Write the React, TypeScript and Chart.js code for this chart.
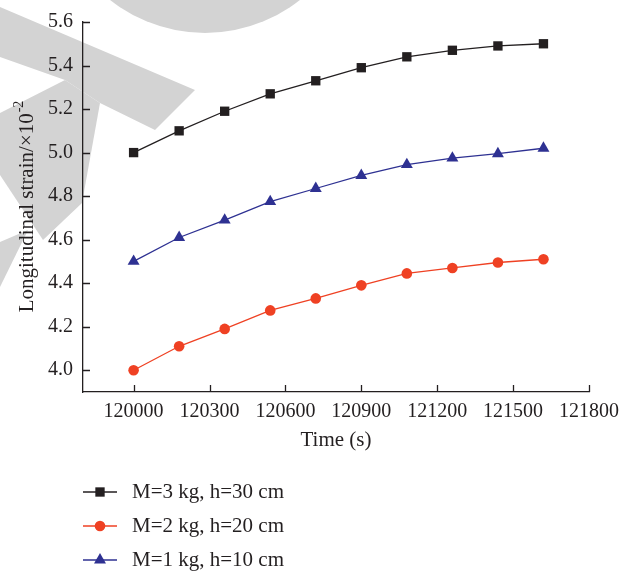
import React, { useEffect, useRef } from "react";
import { Chart, registerables } from "chart.js";

Chart.register(...registerables);

const timeSeconds = [120000, 120180, 120360, 120540, 120720, 120900, 121080, 121260, 121440, 121620];
const strainM3 = [5.0, 5.1, 5.19, 5.27, 5.33, 5.39, 5.44, 5.47, 5.49, 5.5];
const strainM2 = [4.0, 4.11, 4.19, 4.275, 4.33, 4.39, 4.445, 4.47, 4.495, 4.51];
const strainM1 = [4.5, 4.61, 4.69, 4.775, 4.835, 4.895, 4.945, 4.975, 4.995, 5.02];
const seriesLabels = ["M=3 kg, h=30 cm", "M=2 kg, h=20 cm", "M=1 kg, h=10 cm"];
const xTickValues = [120000, 120300, 120600, 120900, 121200, 121500, 121800];
const yTickValues = [4.0, 4.2, 4.4, 4.6, 4.8, 5.0, 5.2, 5.4, 5.6];
const xTitle = "Time (s)";
const yTitleMain = "Longitudinal strain/×10";
const yTitleSup = "-2";

const FONT = "'Liberation Serif', 'DejaVu Serif', serif";
const INK = "#231f20";
const BLACK = "#231f20";
const RED = "#ef4123";
const BLUE = "#2e3192";
const WM = "#d3d3d3";

function drawMarker(ctx: CanvasRenderingContext2D, style: string, x: number, y: number, r: number, color: string) {
  ctx.save();
  ctx.fillStyle = color;
  ctx.beginPath();
  if (style === "rect") {
    const s = Math.SQRT1_2 * r;
    ctx.rect(x - s, y - s, 2 * s, 2 * s);
  } else if (style === "circle") {
    ctx.arc(x, y, r, 0, Math.PI * 2);
  } else {
    ctx.moveTo(x, y - r);
    ctx.lineTo(x + r * Math.sin((2 * Math.PI) / 3), y - r * Math.cos((2 * Math.PI) / 3));
    ctx.lineTo(x + r * Math.sin((4 * Math.PI) / 3), y - r * Math.cos((4 * Math.PI) / 3));
    ctx.closePath();
  }
  ctx.fill();
  ctx.restore();
}

const watermarkPlugin = {
  id: "watermark",
  beforeDraw(chart: any) {
    const ctx = chart.ctx as CanvasRenderingContext2D;
    ctx.save();
    ctx.fillStyle = WM;
    const polys = [
      [[0, 7], [195, 90], [155, 130], [100, 103], [65, 80], [0, 57]],
      [[65, 80], [100, 103], [82, 203], [43, 240], [0, 175], [0, 113]],
      [[0, 242], [28, 230], [0, 287]],
    ];
    for (const p of polys) {
      ctx.beginPath();
      p.forEach(([x, y], i) => (i === 0 ? ctx.moveTo(x, y) : ctx.lineTo(x, y)));
      ctx.closePath();
      ctx.fill();
    }
    ctx.beginPath();
    ctx.arc(205, -120, 153, 0, Math.PI * 2);
    ctx.fill();
    ctx.restore();
  },
};

const decorPlugin = {
  id: "decor",
  afterDraw(chart: any) {
    const ctx = chart.ctx as CanvasRenderingContext2D;
    const { left, right, top, bottom } = chart.chartArea;
    const xs = chart.scales.x;
    const ys = chart.scales.y;
    ctx.save();
    ctx.strokeStyle = INK;
    ctx.lineWidth = 1.3;
    ctx.beginPath();
    for (const v of yTickValues) {
      const py = Math.round(ys.getPixelForValue(v)) + 0.5;
      ctx.moveTo(left, py);
      ctx.lineTo(left + 7, py);
    }
    for (const v of xTickValues) {
      const px = Math.round(xs.getPixelForValue(v)) + 0.5;
      ctx.moveTo(px, bottom);
      ctx.lineTo(px, bottom - 7);
    }
    ctx.stroke();

    // axis titles
    ctx.fillStyle = INK;
    ctx.font = `21px ${FONT}`;
    ctx.textAlign = "center";
    ctx.textBaseline = "middle";
    ctx.fillText(xTitle, (left + right) / 2, 440);

    ctx.save();
    ctx.translate(27, (top + bottom) / 2);
    ctx.rotate(-Math.PI / 2);
    ctx.font = `21px ${FONT}`;
    const wMain = ctx.measureText(yTitleMain).width;
    ctx.font = `14px ${FONT}`;
    const wSup = ctx.measureText(yTitleSup).width;
    const start = -(wMain + wSup) / 2;
    ctx.textAlign = "left";
    ctx.font = `21px ${FONT}`;
    ctx.fillText(yTitleMain, start, 0);
    ctx.font = `14px ${FONT}`;
    ctx.fillText(yTitleSup, start + wMain + 1, -8);
    ctx.restore();

    // legend
    const rows = [492, 526, 560];
    chart.data.datasets.forEach((ds: any, i: number) => {
      const y = rows[i];
      ctx.strokeStyle = ds.borderColor;
      ctx.lineWidth = 1.3;
      ctx.beginPath();
      ctx.moveTo(83, y);
      ctx.lineTo(117, y);
      ctx.stroke();
      drawMarker(ctx, ds.pointStyle, 100, y, ds.pointRadius, ds.backgroundColor);
      ctx.fillStyle = INK;
      ctx.font = `21px ${FONT}`;
      ctx.textAlign = "left";
      ctx.textBaseline = "middle";
      ctx.fillText(ds.label, 132, y);
    });
    ctx.restore();
  },
};

export default function App() {
  const ref = useRef<HTMLCanvasElement>(null);
  useEffect(() => {
    if (!ref.current) return;
    const mk = (label: string, values: number[], color: string, style: string, r: number) => ({
      label,
      data: timeSeconds.map((t, i) => ({ x: t, y: values[i] })),
      borderColor: color,
      backgroundColor: color,
      borderWidth: 1.3,
      pointStyle: style,
      pointRadius: r,
      pointHoverRadius: r,
      pointBorderWidth: 0,
      tension: 0,
    });
    const chart = new Chart(ref.current, {
      type: "line",
      data: {
        datasets: [
          mk(seriesLabels[0], strainM3, BLACK, "rect", 6.6),
          mk(seriesLabels[1], strainM2, RED, "circle", 5.3),
          mk(seriesLabels[2], strainM1, BLUE, "triangle", 6.9),
        ],
      },
      options: {
        animation: false,
        responsive: false,
        events: [],
        layout: { padding: { top: 20, right: 42, bottom: 0, left: 0 } },
        plugins: { legend: { display: false }, tooltip: { enabled: false } },
        scales: {
          x: {
            type: "linear",
            min: 119800,
            max: 121800,
            afterBuildTicks: (s: any) => {
              s.ticks = xTickValues.map((v) => ({ value: v }));
            },
            afterFit: (s: any) => {
              s.height = 183;
            },
            grid: { display: false, drawTicks: false },
            border: { display: true, color: INK, width: 1.3 },
            ticks: {
              font: { family: FONT, size: 20 },
              color: INK,
              padding: 8,
              maxRotation: 0,
              autoSkip: false,
              callback: (v: any) => String(v),
            },
          },
          y: {
            type: "linear",
            min: 3.9,
            max: 5.6,
            afterBuildTicks: (s: any) => {
              s.ticks = yTickValues.map((v) => ({ value: v }));
            },
            afterFit: (s: any) => {
              s.width = 83;
            },
            grid: { display: false, drawTicks: false },
            border: { display: true, color: INK, width: 1.3 },
            ticks: {
              font: { family: FONT, size: 20 },
              color: INK,
              padding: 10,
              autoSkip: false,
              callback: (v: any) => Number(v).toFixed(1),
            },
          },
        },
      },
      plugins: [watermarkPlugin, decorPlugin],
    } as any);
    return () => chart.destroy();
  }, []);
  return (
    <div style={{ position: "absolute", left: 0, top: 0, width: 631, height: 575, background: "#fff" }}>
      <canvas ref={ref} width={631} height={575} style={{ display: "block" }} />
    </div>
  );
}
